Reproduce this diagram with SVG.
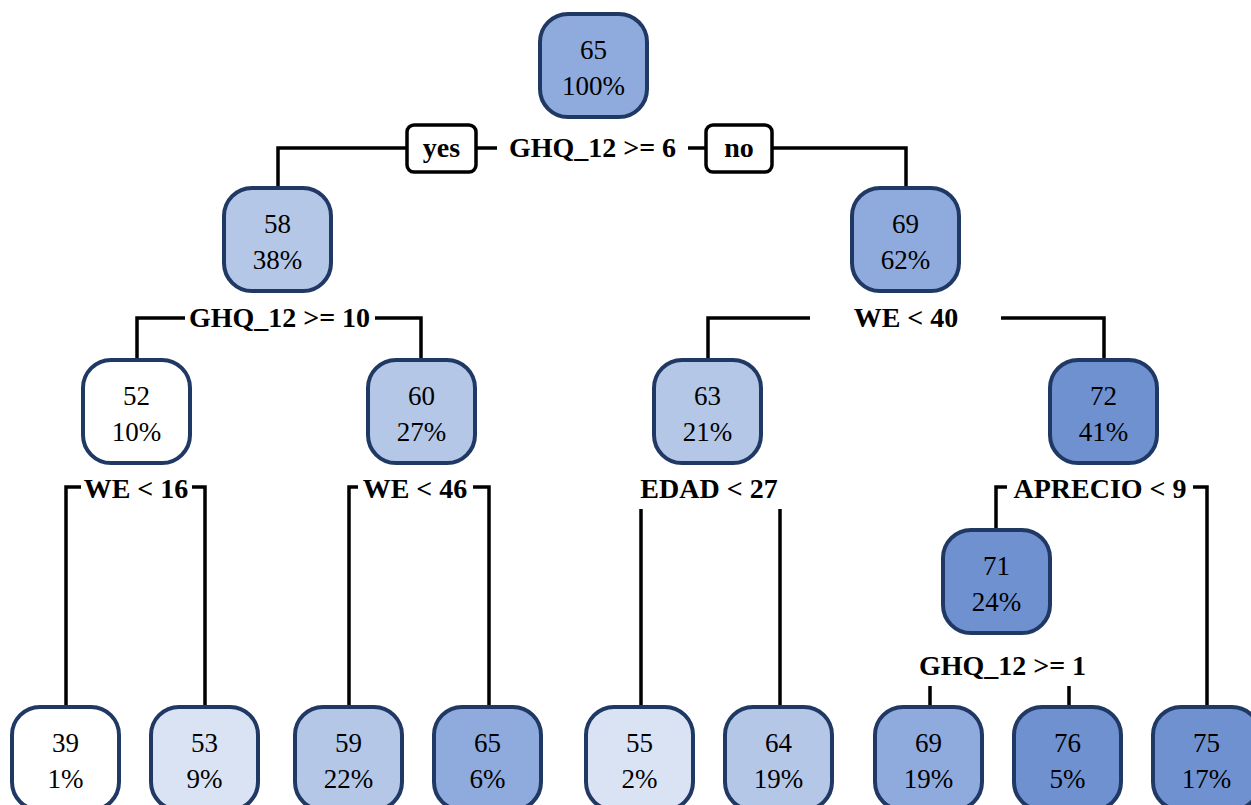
<svg xmlns="http://www.w3.org/2000/svg" width="1251" height="805" viewBox="0 0 1251 805">
<style>
.n{stroke:#1f3864;stroke-width:4}
.c{fill:none;stroke:#000;stroke-width:3.5}
.v{font-family:"Liberation Serif",serif;font-size:27px;text-anchor:middle;fill:#000}
.s{font-family:"Liberation Serif",serif;font-weight:bold;font-size:28px;text-anchor:middle;fill:#000}
.w{fill:#fff}.l1{fill:#dae3f3}.l2{fill:#b4c7e7}.l3{fill:#8faadc}.l4{fill:#6f91d0}
.yn{fill:#fff;stroke:#000;stroke-width:3.5}
</style>
<rect width="1251" height="805" fill="#fff"/>
<g id="connectors">
<path class="c" d="M278 188V148H407M476 148H497M688 148H706M772 148H906V188"/>
<path class="c" d="M137 360V318H185M375 318H421V360"/>
<path class="c" d="M708 360V318H810M1001 318H1104V360"/>
<path class="c" d="M66 707V487H81M192 487H205V707"/>
<path class="c" d="M349 707V487H358M473 487H489V707"/>
<path class="c" d="M641 707V509M780 707V509"/>
<path class="c" d="M996 530V487H1007M1193 487H1207V707"/>
<path class="c" d="M930 707V686M1069 707V686"/>
</g>
<g id="labels">
<rect class="yn" x="407" y="125" width="69" height="47" rx="7"/>
<text class="s" x="441.5" y="157">yes</text>
<rect class="yn" x="706" y="125" width="66" height="47" rx="7"/>
<text class="s" x="739" y="157">no</text>
<text class="s" x="592.5" y="157">GHQ_12 &gt;= 6</text>
<text class="s" x="279.5" y="327">GHQ_12 &gt;= 10</text>
<text class="s" x="906" y="327">WE &lt; 40</text>
<text class="s" x="136" y="498">WE &lt; 16</text>
<text class="s" x="415" y="498">WE &lt; 46</text>
<text class="s" x="709" y="498">EDAD &lt; 27</text>
<text class="s" x="1100" y="498">APRECIO &lt; 9</text>
<text class="s" x="1002.5" y="675">GHQ_12 &gt;= 1</text>
</g>
<g id="n1"><rect class="n l3" x="540" y="14" width="107" height="103" rx="28"/><text class="v" x="593.5" y="59">65</text><text class="v" x="593.5" y="95">100%</text></g>
<g id="n2"><rect class="n l2" x="224" y="188" width="107" height="103" rx="28"/><text class="v" x="277.5" y="233">58</text><text class="v" x="277.5" y="269">38%</text></g>
<g id="n3"><rect class="n l3" x="852" y="188" width="107" height="103" rx="28"/><text class="v" x="905.5" y="233">69</text><text class="v" x="905.5" y="269">62%</text></g>
<g id="n4"><rect class="n w" x="83" y="360" width="107" height="103" rx="28"/><text class="v" x="136.5" y="405">52</text><text class="v" x="136.5" y="441">10%</text></g>
<g id="n5"><rect class="n l2" x="368" y="360" width="107" height="103" rx="28"/><text class="v" x="421.5" y="405">60</text><text class="v" x="421.5" y="441">27%</text></g>
<g id="n6"><rect class="n l2" x="654" y="360" width="107" height="103" rx="28"/><text class="v" x="707.5" y="405">63</text><text class="v" x="707.5" y="441">21%</text></g>
<g id="n7"><rect class="n l4" x="1050" y="360" width="107" height="103" rx="28"/><text class="v" x="1103.5" y="405">72</text><text class="v" x="1103.5" y="441">41%</text></g>
<g id="n15"><rect class="n l4" x="943" y="530" width="107" height="103" rx="28"/><text class="v" x="996.5" y="575">71</text><text class="v" x="996.5" y="611">24%</text></g>
<g id="n8"><rect class="n w" x="12" y="707" width="107" height="103" rx="28"/><text class="v" x="65.5" y="752">39</text><text class="v" x="65.5" y="788">1%</text></g>
<g id="n9"><rect class="n l1" x="151" y="707" width="107" height="103" rx="28"/><text class="v" x="204.5" y="752">53</text><text class="v" x="204.5" y="788">9%</text></g>
<g id="n10"><rect class="n l2" x="295" y="707" width="107" height="103" rx="28"/><text class="v" x="348.5" y="752">59</text><text class="v" x="348.5" y="788">22%</text></g>
<g id="n11"><rect class="n l3" x="434" y="707" width="107" height="103" rx="28"/><text class="v" x="487.5" y="752">65</text><text class="v" x="487.5" y="788">6%</text></g>
<g id="n12"><rect class="n l1" x="586" y="707" width="107" height="103" rx="28"/><text class="v" x="639.5" y="752">55</text><text class="v" x="639.5" y="788">2%</text></g>
<g id="n13"><rect class="n l2" x="725" y="707" width="107" height="103" rx="28"/><text class="v" x="778.5" y="752">64</text><text class="v" x="778.5" y="788">19%</text></g>
<g id="n16"><rect class="n l3" x="875" y="707" width="107" height="103" rx="28"/><text class="v" x="928.5" y="752">69</text><text class="v" x="928.5" y="788">19%</text></g>
<g id="n17"><rect class="n l4" x="1014" y="707" width="107" height="103" rx="28"/><text class="v" x="1067.5" y="752">76</text><text class="v" x="1067.5" y="788">5%</text></g>
<g id="n14"><rect class="n l4" x="1153" y="707" width="107" height="103" rx="28"/><text class="v" x="1206.5" y="752">75</text><text class="v" x="1206.5" y="788">17%</text></g>
</svg>
